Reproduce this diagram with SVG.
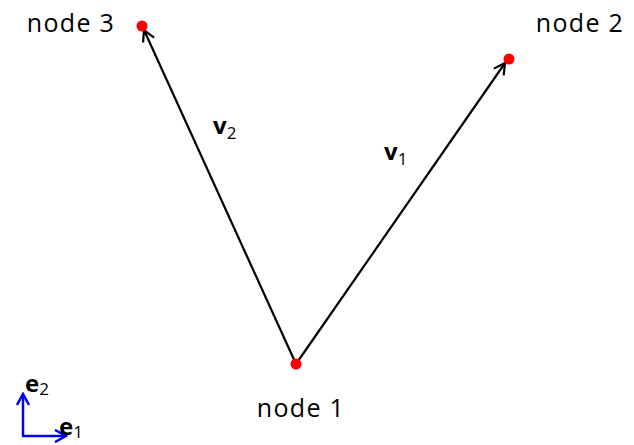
<svg xmlns="http://www.w3.org/2000/svg" width="634" height="445" viewBox="0 0 634 445">
<style>
.lbl{font-family:"Open Sans","Liberation Sans",sans-serif;font-size:25px;letter-spacing:1.3px;fill:#000}
.vec{font-family:"Open Sans","Liberation Sans",sans-serif;font-size:24px;font-weight:bold;fill:#000}
.sub{font-family:"Open Sans","Liberation Sans",sans-serif;font-size:17px;fill:#000}
.edge{stroke:#000;stroke-width:2.2;fill:none}
.ax{stroke:#0000ff;stroke-width:2.5;fill:none}
.dot{fill:#ff0000}
</style>
<defs>
<marker id="arr" viewBox="0 0 14 14" refX="12" refY="7" markerWidth="14" markerHeight="14" markerUnits="userSpaceOnUse" orient="auto">
<path d="M1,1 L12,7 L1,13" fill="none" stroke="#000" stroke-width="2.2"/>
</marker>
<marker id="barr" viewBox="0 0 14 14" refX="12" refY="7" markerWidth="14" markerHeight="14" markerUnits="userSpaceOnUse" orient="auto">
<path d="M1,1 L12,7 L1,13" fill="none" stroke="#0000ff" stroke-width="2.5"/>
</marker>
</defs>
<g id="connectors">
<line class="edge" x1="296" y1="364" x2="505" y2="63" marker-end="url(#arr)"/>
<line class="edge" x1="296" y1="364" x2="144" y2="30" marker-end="url(#arr)"/>
</g>
<g id="node1"><circle class="dot" cx="296" cy="364" r="5.5"/><text class="lbl" x="301" y="417" text-anchor="middle">node 1</text></g>
<g id="node2"><circle class="dot" cx="509" cy="59" r="5.5"/><text class="lbl" x="580" y="32" text-anchor="middle">node 2</text></g>
<g id="node3"><circle class="dot" cx="142" cy="26" r="5.5"/><text class="lbl" x="71" y="32" text-anchor="middle">node 3</text></g>
<g id="labels">
<text class="vec" x="213" y="134">v<tspan class="sub" dy="5" font-weight="normal">2</tspan></text>
<text class="vec" x="384" y="160">v<tspan class="sub" dy="5" font-weight="normal">1</tspan></text>
</g>
<g id="axes">
<line class="ax" x1="23" y1="436" x2="23" y2="394" marker-end="url(#barr)"/>
<line class="ax" x1="22" y1="436" x2="66" y2="436" marker-end="url(#barr)"/>
<text class="vec" x="25" y="392" font-size="19">e<tspan class="sub" dy="3" font-size="14" font-weight="normal">2</tspan></text>
<text class="vec" x="59" y="435" font-size="19">e<tspan class="sub" dy="3" font-size="14" font-weight="normal">1</tspan></text>
</g>
</svg>
